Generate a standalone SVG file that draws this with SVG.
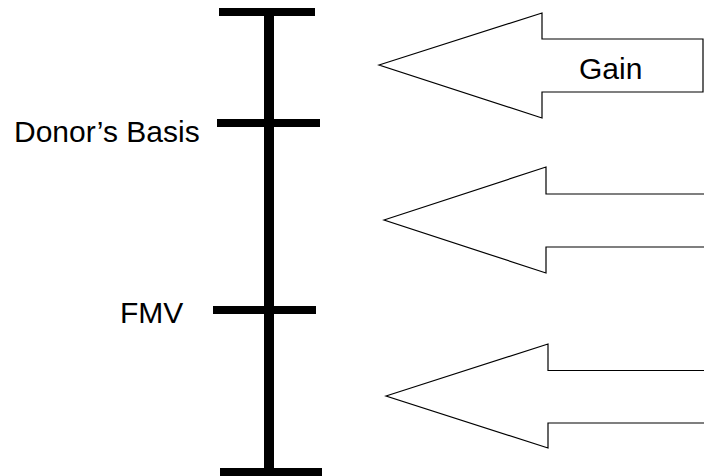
<svg xmlns="http://www.w3.org/2000/svg" width="704" height="476" viewBox="0 0 704 476">
<style>
.bar{stroke:#000;stroke-width:8;fill:none}
.axis{stroke:#000;stroke-width:10;fill:none}
.arrow{fill:#fff;stroke:#000;stroke-width:1.2;stroke-linejoin:miter}
.lbl{font-family:"Liberation Sans",Arial,sans-serif;font-size:30px;fill:#000}
</style>
<rect width="704" height="476" fill="#fff"/>
<g id="connectors">
<line class="axis" x1="269" y1="8" x2="269" y2="476"/>
<line class="bar" x1="219" y1="12" x2="315" y2="12"/>
<line class="bar" x1="217" y1="123" x2="320" y2="123"/>
<line class="bar" x1="213" y1="310" x2="316" y2="310"/>
<line class="bar" x1="220" y1="472" x2="322" y2="472"/>
</g>
<g id="label-donor"><text class="lbl" x="14" y="142">Donor’s Basis</text></g>
<g id="label-fmv"><text class="lbl" x="120" y="323">FMV</text></g>
<g id="arrow-gain">
<path class="arrow" d="M379,65 L542,13 L542,39 L703,39 L703,92 L542,92 L542,118 Z"/>
<text class="lbl" x="579" y="79">Gain</text>
</g>
<g id="arrow-middle">
<path class="arrow" d="M384,220 L546,167 L546,194 L706,194 L706,247 L546,247 L546,273 Z"/>
</g>
<g id="arrow-bottom">
<path class="arrow" d="M386,396 L548,344 L548,370.5 L706,370.5 L706,423 L548,423 L548,448 Z"/>
</g>
</svg>
